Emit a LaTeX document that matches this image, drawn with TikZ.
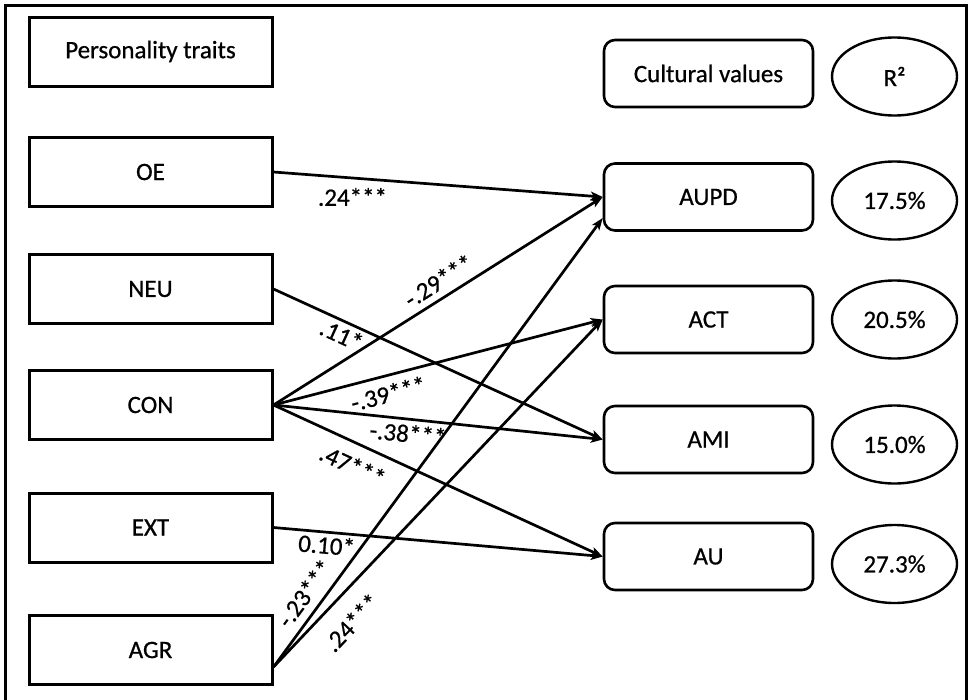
\documentclass[tikz,border=0pt]{standalone}
\usepackage{fontspec}
\setmainfont{Carlito}[FakeBold=0.7]
\usetikzlibrary{arrows.meta,calc,shapes.geometric}
\begin{document}
\begin{tikzpicture}[x=1pt,y=-1pt,
  every node/.style={font=\fontsize{25}{29}\selectfont, text=black},
  trait/.style={draw, line width=3pt, minimum width=243pt, minimum height=69pt, inner sep=0pt},
  value/.style={draw, line width=2.6pt, rounded corners=11pt, minimum width=209pt, minimum height=67pt, inner sep=0pt},
  share/.style={draw, ellipse, line width=2.4pt, minimum width=125pt, minimum height=78pt, inner sep=0pt},
  link/.style={line width=2.7pt, -{Stealth[length=12pt,width=9pt,inset=3pt]}},
  coef/.style={inner sep=0pt, sloped}
]
\useasboundingbox (0,0) rectangle (968,699);

% outer frame
\draw[line width=3pt] (5,705) -- (5,5) -- (966,5) -- (966,705);

% personality traits (predictors)
\node[trait] (pt)  at (150.5,51.5) {Personality traits};
\node[trait] (oe)  at (150.5,172)  {OE};
\node[trait] (neu) at (150.5,289)  {NEU};
\node[trait] (con) at (150.5,405)  {CON};
\node[trait] (ext) at (150.5,527.5){EXT};
\node[trait] (agr) at (150.5,650)  {AGR};

% cultural values (outcomes)
\node[value] (cv)   at (708.5,73.5)  {Cultural values};
\node[value] (aupd) at (708.5,197)   {AUPD};
\node[value] (act)  at (708.5,319.5) {ACT};
\node[value] (ami)  at (708.5,439.5) {AMI};
\node[value] (au)   at (708.5,556.5) {AU};

% explained variance
\node[share] (r2)    at (894.5,76.5)  {R²};
\node[share] (raupd) at (894.5,200.5) {17.5\%};
\node[share] (ract)  at (894.5,319.5) {20.5\%};
\node[share] (rami)  at (894.5,444.5) {15.0\%};
\node[share] (rau)   at (894.5,564)   {27.3\%};

% offset ports
\coordinate (agrout) at ($(agr.east)+(0,17)$);
\coordinate (aupdin) at ($(aupd.west)+(0,21)$);

% paths with standardized coefficients
\draw[link] (oe.east)  -- (aupd.west) node[pos=0.24, yshift=-19pt, inner sep=0pt] {.24***};
\draw[link] (con.east) -- (aupd.west) node[coef, pos=0.529, above=6.5pt] {-.29***};
\draw[link] (neu.east) -- (ami.west)  node[coef, pos=0.224, below=3pt] {.11*};
\draw[link] (con.east) -- (act.west)  node[coef, pos=0.335, below=7.5pt] {-.39***};
\draw[link] (con.east) -- (ami.west)  node[coef, pos=0.413, below=4pt] {-.38***};
\draw[link] (con.east) -- (au.west)   node[coef, pos=0.268, below=11.5pt] {.47***};
\draw[link] (ext.east) -- (au.west)   node[coef, pos=0.165, below=2.5pt] {0.10*};
\draw[link] (agrout)   -- (aupdin)    node[coef, pos=0.14, above=8pt] {-.23***};
\draw[link] (agrout)   -- (act.west)  node[coef, pos=0.18, below=16pt] {.24***};
\end{tikzpicture}
\end{document}
